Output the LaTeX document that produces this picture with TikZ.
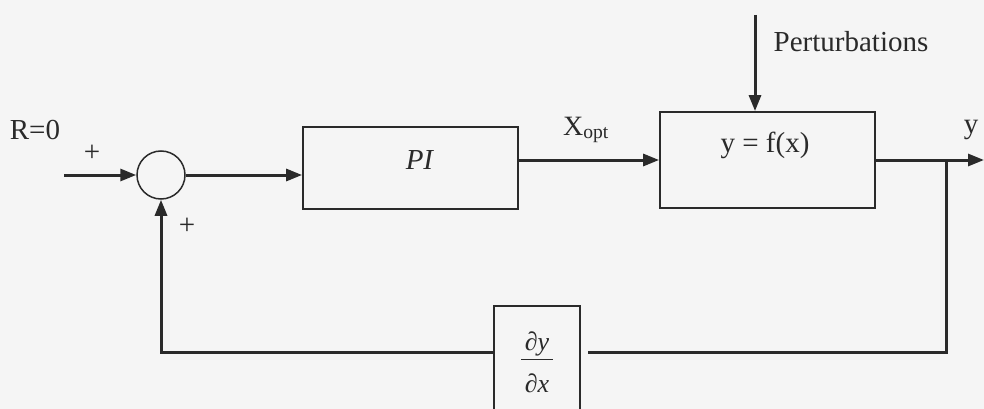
\documentclass[tikz,border=0pt]{standalone}
\usepackage{fontspec}
\setmainfont{Liberation Serif}
\usetikzlibrary{arrows.meta}
\definecolor{ink}{HTML}{2A2A2A}
\definecolor{paper}{HTML}{F5F5F5}
\begin{document}
\begin{tikzpicture}[x=1pt,y=-1pt,
  wire/.style={draw=ink, line width=3pt},
  sig/.style={wire, -{Triangle[length=16pt,width=12pt]}},
  block/.style={draw=ink, line width=1.8pt, rectangle, inner sep=0pt},
  junction/.style={draw=ink, line width=1.5pt, circle, inner sep=0pt, minimum size=48pt},
  lbl/.style={text=ink, inner sep=0pt, font=\fontsize{29}{34}\selectfont},
]
% page and frame
\clip (0,0) rectangle (984,409);
\fill[paper] (0,0) rectangle (984,409);

% blocks
\node[junction] (sum) at (161,175) {};
\node[block, minimum width=215pt, minimum height=82pt] (pi) at (410.5,168) {};
\node[block, minimum width=215pt, minimum height=96pt] (plant) at (767.5,160) {};
\node[block, minimum width=86pt, minimum height=108pt] (deriv) at (537,360) {};

% block texts
\node[lbl] (pitext) at (420,160) {\textit{PI}};
\node[lbl] (planttext) at (765,145) {y = f(x)};
\node[lbl, align=center, font=\fontsize{26}{26}\selectfont] (derivtext) at (537,362)
  {\textit{∂y}\\[-16pt]\rule{32pt}{1.4pt}\\[6pt]\textit{∂x}};

% signal labels
\node[lbl] (rlabel) at (35,130) {R=0};
\node[lbl] (plusa) at (92,153) {+};
\node[lbl] (plusb) at (187,226) {+};
\node[lbl, font=\fontsize{28}{32}\selectfont] (xlabel) at (586,130) {X\textsubscript{opt}};
\node[lbl] (ylabel) at (971,130) {y};
\node[lbl] (plabel) at (851,42) {Perturbations};

% free ends and corners
\coordinate (in) at (64,175);
\coordinate (ptop) at (755,15);
\coordinate (out) at (984,160);
\coordinate (branch) at (946,160);
\coordinate (fbright) at (588,352);

% forward path
\draw[sig] (in) -- (sum.west);
\draw[sig] (sum.east) -- (pi.west |- sum.east);
\draw[sig] (pi.east |- plant.west) -- (plant.west);
\draw[sig] (ptop) -- (ptop |- plant.north);
\draw[sig] (plant.east) -- (out);

% feedback path
\draw[wire] (branch) |- (fbright);
\draw[sig] (deriv.west |- fbright) -| (sum.south);
\end{tikzpicture}
\end{document}
